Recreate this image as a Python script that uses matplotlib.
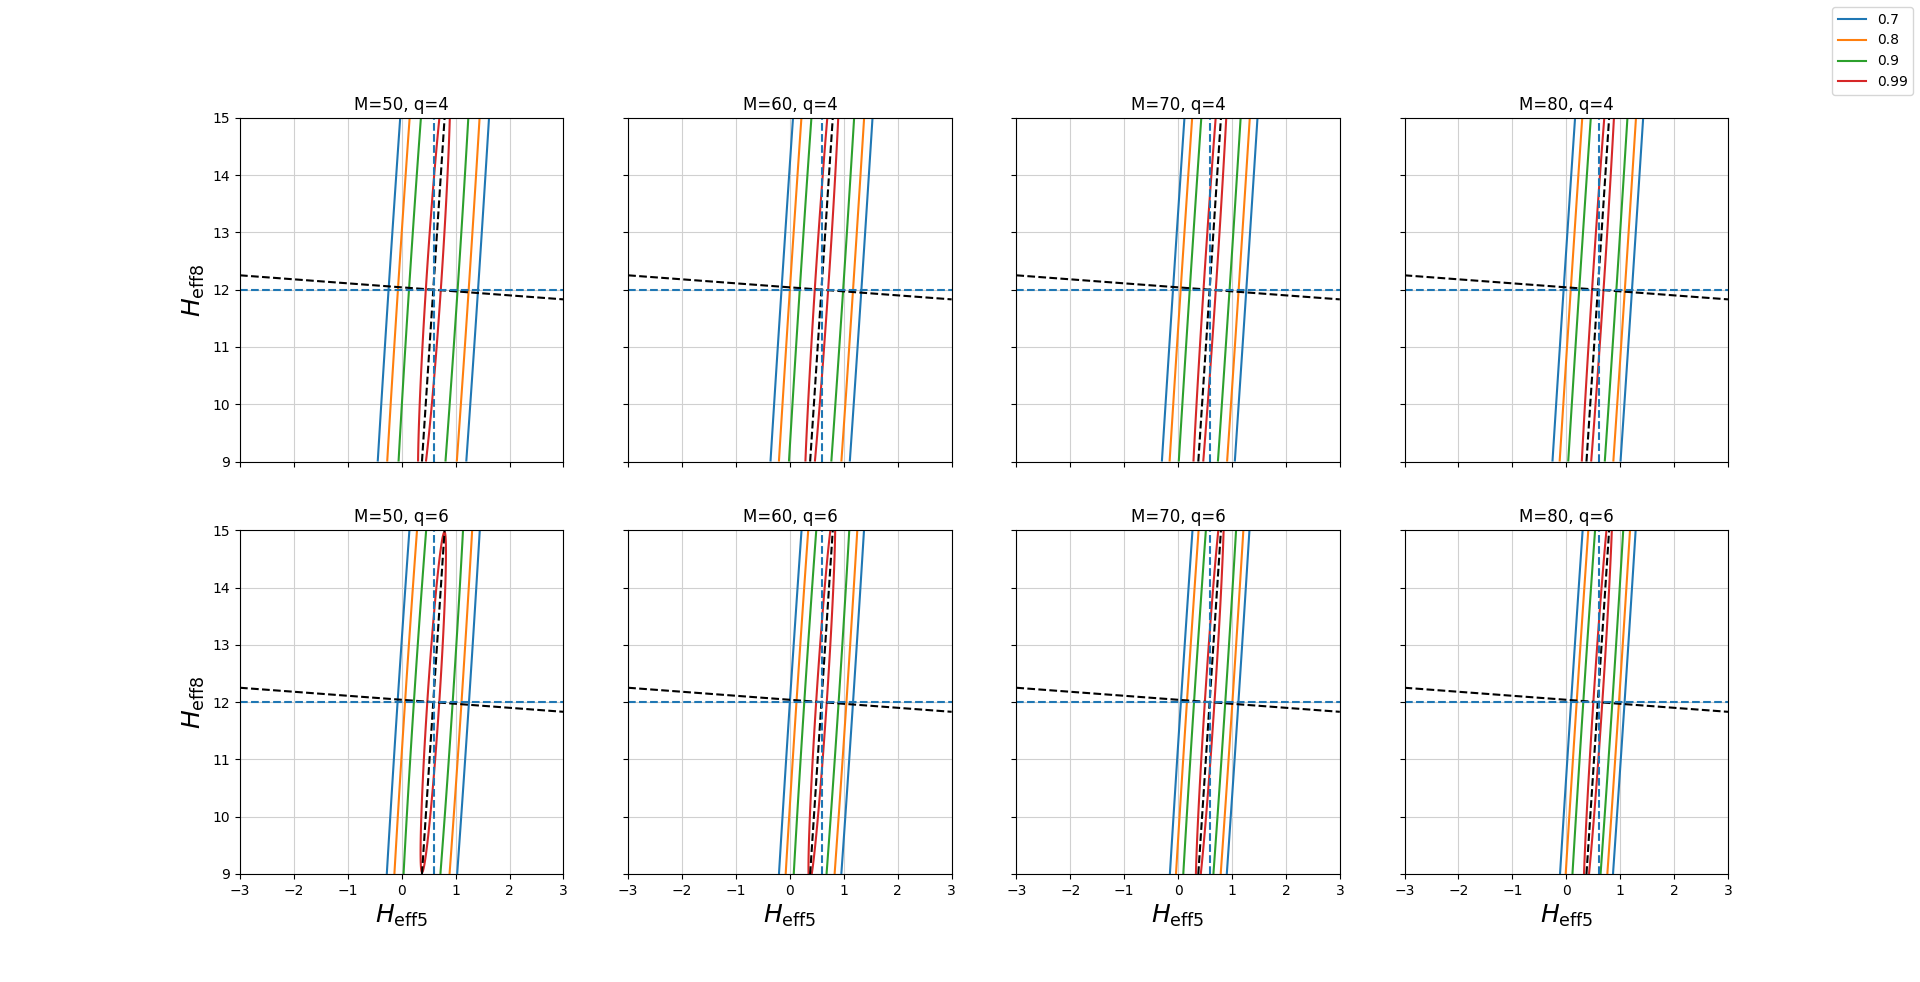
import numpy as np
import matplotlib.pyplot as plt
from matplotlib.lines import Line2D

M_vals = [50, 60, 70, 80]
q_vals = [4, 6]
levels = [0.7, 0.8, 0.9, 0.99]
level_labels = ['0.7', '0.8', '0.9', '0.99']
level_colors = ['C0', 'C1', 'C2', 'C3']

true_h5 = 0.6
true_h8 = 12.0
# point the principal axes go through
est_h5 = 0.585
est_h8 = 12.0

# ellipse centres per panel (rows = q, cols = M)
centre_h5 = [[0.603, 0.606, 0.603, 0.592],
             [0.585, 0.592, 0.589, 0.589]]
centre_h8 = [[12.25, 12.3, 12.25, 12.1],
             [12.0, 12.1, 12.05, 12.05]]
# spread along the short and the long axis
sd_minor = [[0.98, 0.875, 0.803, 0.749],
            [0.782, 0.692, 0.630, 0.586]]
sd_major = [[27, 33, 38, 38],
            [21, 23, 25, 26]]
tilt = 0.07  # dx/dy of the long axis

x = np.linspace(-3, 3, 1200)
y = np.linspace(9, 15, 1200)
X, Y = np.meshgrid(x, y)

fig, axes = plt.subplots(2, 4, figsize=(19.2, 9.82), dpi=100, sharex=True, sharey=True)

v_major = np.array([tilt, 1.0]) / np.hypot(tilt, 1.0)
v_minor = np.array([1.0, -tilt]) / np.hypot(tilt, 1.0)

for i, q in enumerate(q_vals):
    for j, M in enumerate(M_vals):
        ax = axes[i, j]
        cov = (sd_major[i][j] ** 2 * np.outer(v_major, v_major)
               + sd_minor[i][j] ** 2 * np.outer(v_minor, v_minor))
        prec = np.linalg.inv(cov)
        dx = X - centre_h5[i][j]
        dy = Y - centre_h8[i][j]
        d2 = prec[0, 0] * dx * dx + 2 * prec[0, 1] * dx * dy + prec[1, 1] * dy * dy
        Z = np.exp(-0.5 * d2)

        ax.grid(True, color='#d0d0d0', linewidth=0.8)
        ax.contour(X, Y, Z, levels=levels, colors=level_colors, linewidths=1.5)

        # principal axes
        evals, evecs = np.linalg.eigh(cov)
        for k in range(2):
            vx, vy = evecs[:, k]
            ax.axline((est_h5, est_h8), slope=vy / vx, color='k', linestyle='--', linewidth=1.5)

        ax.axvline(true_h5, color='C0', linestyle='--', linewidth=1.5)
        ax.axhline(true_h8, color='C0', linestyle='--', linewidth=1.5)

        ax.set_xlim(-3, 3)
        ax.set_ylim(9, 15)
        ax.set_xticks(range(-3, 4))
        ax.set_yticks(range(9, 16))
        ax.set_title(f'M={M}, q={q}')
        if i == 1:
            ax.set_xlabel(r'$H_{\rm eff5}$', fontsize=18)
        if j == 0:
            ax.set_ylabel(r'$H_{\rm eff8}$', fontsize=18)

handles = [Line2D([], [], color=c) for c in level_colors]
fig.legend(handles, level_labels, loc='upper right')

fig.savefig('out.png', dpi=100)
